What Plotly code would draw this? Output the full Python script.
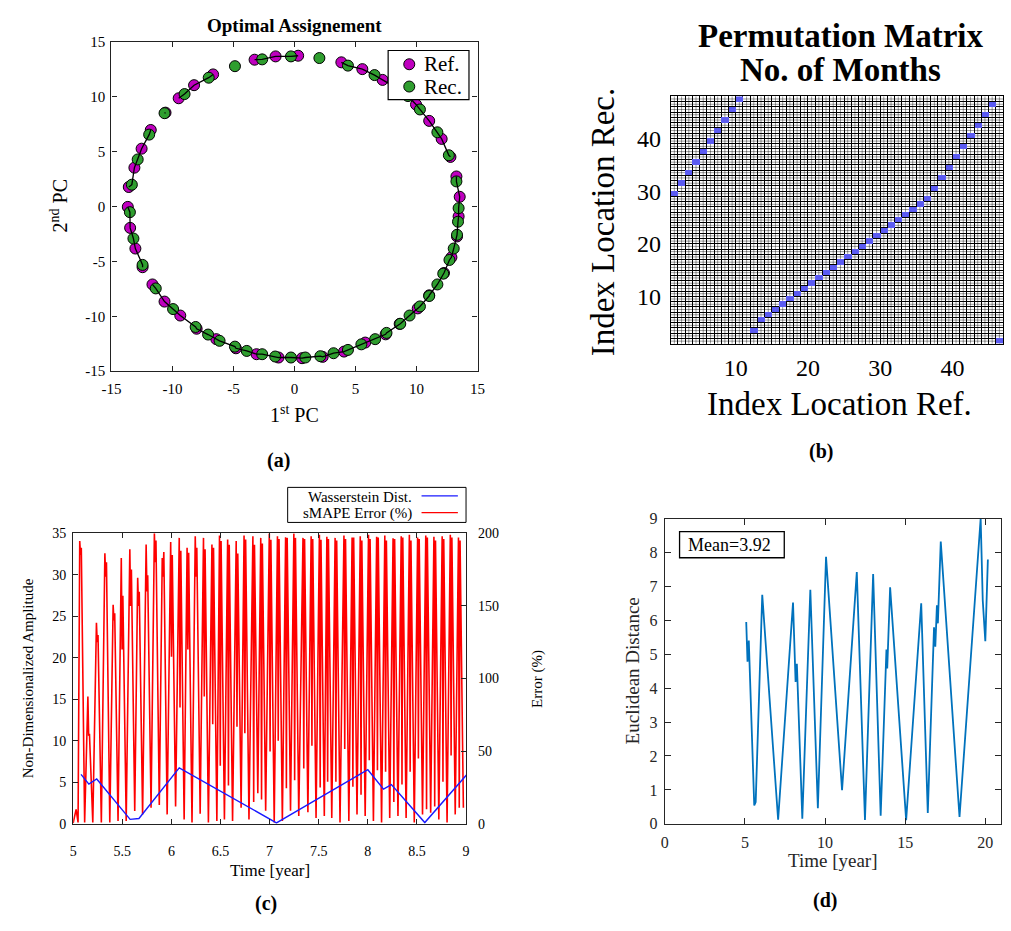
import numpy as np
import plotly.graph_objects as go

W, H = 1011, 931
SERIF = "Liberation Serif"


def fx(p):
    return p / W


def fy(p):
    return 1 - p / H


# ---------------- (a) principal components, reference vs reconstruction
ref_x = [-3.27, -1.55, 0.30, 3.84, 5.56, 7.22, 8.50, 9.96, 11.04, 12.06, 12.78, 13.27,
         13.54, 13.45, 13.32, 12.86, 12.25, 11.04, 10.10, 8.62, 7.47, 5.80, 4.06, 2.31,
         0.62, -1.31, -3.11, -4.80, -6.41, -8.02, -9.36, -10.65, -11.64, -12.45, -13.04,
         -13.47, -13.66, -13.58, -13.12, -12.53, -11.78, -10.57, -9.49, -8.23, -6.67]
ref_y = [13.36, 13.66, 13.72, 13.12, 12.50, 11.52, 10.70, 9.28, 7.79, 6.15, 4.51, 2.73,
         0.88, -0.91, -2.73, -4.63, -6.06, -8.09, -9.28, -10.69, -11.64, -12.39, -13.21,
         -13.69, -13.81, -13.75, -13.45, -12.91, -12.08, -11.13, -9.93, -8.66, -7.10,
         -5.53, -3.83, -1.95, -0.04, 1.77, 3.53, 5.26, 6.96, 8.54, 9.85, 11.04, 12.02]
rec_x = [-4.88, -2.65, -0.29, 2.04, 4.38, 6.56, 9.30, 10.28, 11.71, 12.65, 13.27, 13.45,
         13.40, 13.32, 13.05, 12.70, 12.19, 11.71, 11.04, 10.28, 9.43, 8.67, 7.54, 6.61,
         5.48, 4.38, 3.20, 2.12, 0.89, -0.29, -1.58, -2.65, -3.91, -4.88, -6.14, -7.08,
         -8.10, -9.95, -11.37, -12.45, -13.20, -13.49, -13.33, -12.85, -11.91, -10.65,
         -9.01, -7.03]
rec_y = [12.77, 13.39, 13.66, 13.51, 12.82, 11.96, 10.05, 8.83, 6.75, 4.66, 2.28, -0.16,
         -1.39, -2.58, -3.83, -4.87, -6.12, -7.10, -8.15, -9.10, -9.93, -10.68, -11.51,
         -12.08, -12.55, -13.06, -13.36, -13.63, -13.75, -13.75, -13.66, -13.45, -13.15,
         -12.76, -12.23, -11.66, -10.97, -9.34, -7.46, -5.32, -2.92, -0.52, 1.98, 4.28,
         6.54, 8.49, 10.23, 11.72]
pc_ticks = [-15, -10, -5, 0, 5, 10, 15]

# ---------------- (b) permutation between location indices
perm_ref = [1, 2, 3, 4, 5, 6, 7, 8, 9, 10, 12, 13, 14, 15, 16, 17, 18, 19, 20, 21, 22, 23,
            24, 25, 26, 27, 28, 29, 30, 31, 32, 33, 34, 35, 36, 37, 38, 39, 40, 41, 42, 43,
            44, 45, 46]
perm_rec = [29, 31, 33, 35, 37, 39, 41, 43, 45, 47, 3, 5, 6, 7, 8, 9, 10, 11, 12, 13, 14,
            15, 16, 17, 18, 19, 20, 21, 22, 23, 24, 25, 26, 27, 28, 30, 32, 34, 36, 38, 40,
            42, 44, 46, 1]
n_cells = 47

# ---------------- (c) sMAPE error spikes (one per month) and Wasserstein distance
spike_t = [5.067, 5.150, 5.237, 5.323, 5.407, 5.490, 5.577, 5.657, 5.743, 5.827, 5.907,
           5.993, 6.080, 6.160, 6.243, 6.327, 6.413, 6.490, 6.573, 6.660, 6.740, 6.830,
           6.910, 6.997, 7.080, 7.163, 7.247, 7.340, 7.423, 7.507, 7.583, 7.667, 7.757,
           7.840, 7.923, 8.007, 8.090, 8.173, 8.257, 8.340, 8.423, 8.507, 8.590, 8.673,
           8.757, 8.840, 8.923]
spike_peak = [194.6, 87.6, 138.3, 186.2, 150.7, 182.9, 189.0, 169.4, 192.3, 200.0, 183.0,
              193.9, 196.8, 190.0, 198.0, 196.8, 192.3, 198.4, 195.7, 194.6, 198.4, 198.0,
              196.8, 199.8, 198.0, 197.3, 199.8, 196.8, 198.0, 199.0, 197.5, 196.8, 198.5,
              197.0, 198.0, 199.0, 197.5, 198.5, 196.5, 198.0, 199.0, 197.0, 198.5, 197.5,
              198.0, 199.0, 197.0]
spike_dip = [185, 60.6, 125, 170, 140, 120, 150, 150, 160, 180, 170, 115, 80, 120, 170,
             87.6, 68.5, 40, 26.3, 66.8, 62.3, 15, 16.7, 49.7, 57.2, 24.5, 30, 38, 53.8, 25,
             29, 29, 51.5, 25.6, 20, 43.7, 36.9, 35.8, 15, 27, 35.8, 45, 10, 12, 29, 47, 11]
spike_peak2 = [190, 62, 130, 180, 145, 157, 175, 159.7, 171, 195, 187, 185, 188, 186.5,
               190, 189, 190, 194.6, 192, 186, 195.7, 192, 193, 195.5, 196, 196.8, 196.8,
               196, 196, 195.5, 196, 195, 196, 197, 195, 196, 197, 195, 196, 197, 195, 196,
               197, 195, 196, 197, 195]
spike_trough = [1, 1, 1, 1, 2, 2, 8.8, 6.5, 11, 13, 6.5, 12, 3, 1, 7, 0.9, 2, 3, 2, 11, 3,
                21, 9, 1, 2, 9, 5.4, 8, 4, 5.4, 4, 1, 2, 6.5, 5.4, 2, 1, 4, 5.4, 4, 1, 6.5,
                7.7, 3, 1, 6.5, 11]
smape_start_t = [5.0, 5.03, 5.05]
smape_start_v = [0.5, 10.0, 1.0]

# Euclidean / Wasserstein distance between the trajectories
dist_t = [5.08, 5.16, 5.24, 5.58, 5.67, 6.08, 7.07, 8.0, 8.16, 8.24, 8.58, 9.08, 9.55,
          10.06, 11.06, 11.98, 12.49, 13.0, 13.47, 13.83, 13.88, 14.06, 15.06, 16.0, 16.41,
          16.8, 16.88, 16.98, 17.04, 17.22, 18.39, 19.71, 19.84, 20.0, 20.16]
dist_v = [5.95, 4.78, 5.4, 0.54, 0.64, 6.75, 0.12, 6.52, 4.18, 4.72, 0.15, 6.9, 0.46,
          7.87, 0.99, 7.42, 0.11, 7.36, 0.24, 5.14, 4.58, 6.97, 0.11, 6.5, 0.32, 5.79,
          5.22, 6.44, 5.91, 8.32, 0.2, 9.0, 6.59, 5.38, 7.79]
dist_mean = 3.92

MAGENTA = "#bf00bf"
GREEN = "#2f9e2f"
CELL_BLUE = "#5b5bf2"

fig = go.Figure()

# ---- (a)
fig.add_trace(go.Scatter(x=ref_x, y=ref_y, mode="markers", name="Ref.",
                         marker=dict(size=11, color=MAGENTA, line=dict(color="black", width=1)),
                         showlegend=False, xaxis="x", yaxis="y"))
fig.add_trace(go.Scatter(x=rec_x, y=rec_y, mode="markers", name="Rec.",
                         marker=dict(size=11, color=GREEN, line=dict(color="black", width=1)),
                         showlegend=False, xaxis="x", yaxis="y"))

# links between neighbouring assigned points, following the orbit
pts = list(zip(ref_x, ref_y)) + list(zip(rec_x, rec_y))
pts.sort(key=lambda p: np.arctan2(p[1], p[0]))
lx, ly, prev = [], [], None
for p in pts + [pts[0]]:
    if prev is not None and np.hypot(p[0] - prev[0], p[1] - prev[1]) > 1.65:
        lx.append(None)
        ly.append(None)
    lx.append(p[0])
    ly.append(p[1])
    prev = p
fig.add_trace(go.Scatter(x=lx, y=ly, mode="lines", line=dict(color="black", width=1.3),
                         showlegend=False, hoverinfo="skip", xaxis="x", yaxis="y"))

# ---- (b)
z = [[None] * n_cells for _ in range(n_cells)]
for r, c in zip(perm_ref, perm_rec):
    z[c - 1][r - 1] = 1
edges = list(range(1, n_cells + 2))
fig.add_trace(go.Heatmap(z=z, x=edges, y=edges, colorscale=[[0, CELL_BLUE], [1, CELL_BLUE]],
                         showscale=False, zmin=0, zmax=1, xaxis="x2", yaxis="y2",
                         hoverinfo="skip"))

# ---- (c)
sm_t = list(smape_start_t)
sm_v = list(smape_start_v)
for t, p1, d, p2, tr in zip(spike_t, spike_peak, spike_dip, spike_peak2, spike_trough):
    sm_t += [t, t + 0.008, t + 0.016, t + 0.05]
    sm_v += [p1, d, p2, tr]
fig.add_trace(go.Scatter(x=sm_t, y=sm_v, mode="lines", line=dict(color="#ff0000", width=1.6),
                         showlegend=False, xaxis="x3", yaxis="y3"))
fig.add_trace(go.Scatter(x=dist_t, y=dist_v, mode="lines", line=dict(color="#1a1aff", width=1.4),
                         showlegend=False, xaxis="x3", yaxis="y4"))

# ---- (d)
fig.add_trace(go.Scatter(x=dist_t, y=dist_v, mode="lines", line=dict(color="#0072BD", width=1.8),
                         showlegend=False, xaxis="x5", yaxis="y5"))

tickfont = dict(family=SERIF, size=15, color="black")
frame = dict(showline=True, linecolor="#222", linewidth=1.3, mirror="ticks", ticks="inside",
             ticklen=5, tickcolor="#222", showgrid=False, zeroline=False, tickfont=tickfont)

layout = dict(
    width=W, height=H, autosize=False,
    margin=dict(l=0, r=0, t=0, b=0),
    paper_bgcolor="white", plot_bgcolor="rgba(0,0,0,0)",
    font=dict(family=SERIF, color="black"),
    showlegend=False,
)

layout["xaxis"] = dict(frame, domain=[fx(103.3), fx(476)], range=[-15, 15],
                       tickvals=pc_ticks, ticktext=[str(v) for v in pc_ticks],
                       anchor="y", ticklabelstandoff=4)
layout["yaxis"] = dict(frame, domain=[fy(370), fy(34.3)], range=[-15, 15],
                       tickvals=pc_ticks, ticktext=[str(v) for v in pc_ticks],
                       anchor="x", ticklabelstandoff=2)

big = dict(family=SERIF, size=24, color="black")
layout["xaxis2"] = dict(domain=[fx(672.7), 1.0], range=[1, 47], anchor="y2",
                        tickvals=[10, 20, 30, 40], ticks="", tickfont=big,
                        showgrid=True, gridcolor="black", gridwidth=1, zeroline=False,
                        minor=dict(dtick=1, tick0=1, showgrid=True, gridcolor="black",
                                   gridwidth=1),
                        showline=True, linecolor="black", linewidth=1, mirror=True,
                        ticklabelstandoff=2)
layout["yaxis2"] = dict(domain=[fy(342), fy(90)], range=[1, 48], anchor="x2",
                        tickvals=[10, 20, 30, 40], ticks="", tickfont=big,
                        showgrid=True, gridcolor="black", gridwidth=1, zeroline=False,
                        minor=dict(dtick=1, tick0=1, showgrid=True, gridcolor="black",
                                   gridwidth=1),
                        showline=True, linecolor="black", linewidth=1, mirror=True,
                        ticklabelstandoff=4)

c_ticks = [5, 5.5, 6, 6.5, 7, 7.5, 8, 8.5, 9]
smallfont = dict(family=SERIF, size=14, color="black")
layout["xaxis3"] = dict(frame, domain=[fx(64.3), fx(464.3)], range=[5, 9], anchor="y3",
                        tickvals=c_ticks, ticktext=[f"{v:g}" for v in c_ticks],
                        tickfont=smallfont, ticklabelstandoff=14)
layout["yaxis3"] = dict(domain=[fy(831), fy(535)], range=[0, 200], anchor="x3", side="right",
                        tickvals=[0, 50, 100, 150, 200], ticks="inside", ticklen=5,
                        tickcolor="#222", showline=True, linecolor="#222", linewidth=1.3,
                        showgrid=False, zeroline=False, tickfont=smallfont,
                        ticklabelstandoff=8)
layout["yaxis4"] = dict(domain=[fy(831), fy(535)], range=[0, 35], overlaying="y3",
                        anchor="x3", side="left", tickvals=list(range(0, 40, 5)),
                        ticks="inside", ticklen=5, tickcolor="#222", showline=True,
                        linecolor="#222", linewidth=1.3, showgrid=False, zeroline=False,
                        tickfont=smallfont, ticklabelstandoff=3)

dgray = "#262626"
dfont = dict(family=SERIF, size=16, color=dgray)
layout["xaxis5"] = dict(frame, domain=[fx(666.7), fx(1009.3)], range=[0, 21], anchor="y5",
                        tickvals=[0, 5, 10, 15, 20], tickfont=dfont, linecolor=dgray,
                        tickcolor=dgray, ticklen=6, ticklabelstandoff=4)
layout["yaxis5"] = dict(frame, domain=[fy(831), fy(520)], range=[0, 9], anchor="x5",
                        tickvals=list(range(10)), tickfont=dfont, linecolor=dgray,
                        tickcolor=dgray, ticklen=6, ticklabelstandoff=3)

fig.update_layout(**layout)

# half-cell guide lines of the permutation grid, beneath the coloured cells
for k in range(1, n_cells):
    fig.add_shape(type="line", xref="x2", yref="y2", x0=k + 0.5, x1=k + 0.5, y0=1, y1=48,
                  line=dict(color="rgba(0,0,0,0.4)", width=1), layer="between")
for k in range(1, n_cells + 1):
    fig.add_shape(type="line", xref="x2", yref="y2", x0=1, x1=47, y0=k + 0.5, y1=k + 0.5,
                  line=dict(color="rgba(0,0,0,0.4)", width=1), layer="between")

# legend of panel (a)
fig.add_shape(type="rect", xref="paper", yref="paper", x0=fx(385), x1=fx(467.3),
              y0=fy(93.3), y1=fy(43.3), line=dict(color="black", width=1.2),
              fillcolor="white", layer="above")
for cy, col in ((57.3, MAGENTA), (80.0, GREEN)):
    fig.add_shape(type="circle", xref="paper", yref="paper", xsizemode="pixel",
                  ysizemode="pixel", xanchor=fx(406.5), yanchor=fy(cy),
                  x0=-5.5, x1=5.5, y0=-5.5, y1=5.5, fillcolor=col,
                  line=dict(color="black", width=1), layer="above")

# legend of panel (c): label left, line sample right
fig.add_shape(type="rect", xref="paper", yref="paper", x0=fx(282.7), x1=fx(464.3),
              y0=fy(524), y1=fy(488.3), line=dict(color="black", width=1),
              fillcolor="white", layer="above")
fig.add_shape(type="line", xref="paper", yref="paper", x0=fx(419), x1=fx(456),
              y0=fy(497), y1=fy(497), line=dict(color="#1a1aff", width=1.4))
fig.add_shape(type="line", xref="paper", yref="paper", x0=fx(419), x1=fx(456),
              y0=fy(514), y1=fy(514), line=dict(color="#ff0000", width=1.4))

# mean box of panel (d)
fig.add_shape(type="rect", xref="paper", yref="paper", x0=fx(681.7), x1=fx(788.3),
              y0=fy(560), y1=fy(533.3), line=dict(color="black", width=1.3),
              fillcolor="white")


def label(text, x, y, size, bold=False, angle=0, anchor="center", color="black"):
    fig.add_annotation(text=f"<b>{text}</b>" if bold else text, xref="paper", yref="paper",
                       x=fx(x), y=fy(y), showarrow=False, textangle=angle,
                       xanchor=anchor, yanchor="middle",
                       font=dict(family=SERIF, size=size, color=color))


label("Optimal Assignement", 289.7, 17.5, 19, bold=True)
label("Ref.", 419, 57, 21, anchor="left")
label("Rec.", 419, 80, 21, anchor="left")
label("1<sup>st</sup> PC", 290, 414, 20)
label("2<sup>nd</sup> PC", 50, 202, 20, angle=-90)
label("(a)", 273, 461, 20, bold=True)

label("Permutation Matrix", 846, 29, 33, bold=True)
label("No. of Months", 846, 63, 33, bold=True)
label("Index Location Rec.", 604, 218, 33, angle=-90)
label("Index Location Ref.", 845, 403, 33)
label("(b)", 826, 452, 20, bold=True)

label("Wasserstein Dist.", 411, 498, 15, anchor="right")
label("sMAPE Error (%)", 411, 515, 15, anchor="right")
label("Non-Dimensionalized Amplitude", 18, 683, 15, angle=-90)
label("Error (%)", 537, 683, 15, angle=-90)
label("Time [year]", 265, 879, 17)
label("(c)", 261, 912, 20, bold=True)

label(f"Mean={dist_mean:.2f}", 688, 546.5, 18, anchor="left")
label("Euclidean Distance", 634, 675, 19, angle=-90, color=dgray)
label("Time [year]", 838, 868, 19, color=dgray)
label("(d)", 830, 909, 20, bold=True)

fig.write_html("out.html")
